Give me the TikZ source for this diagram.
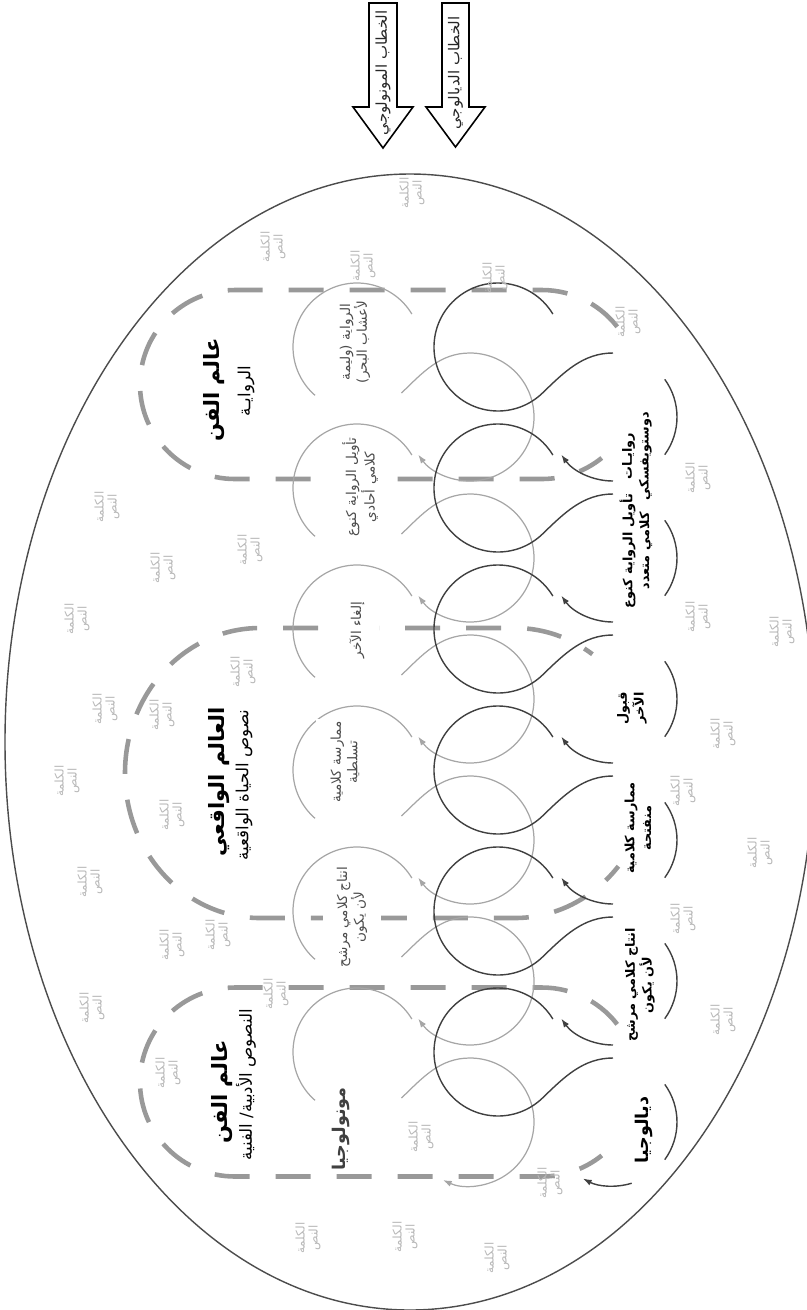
\documentclass[tikz,border=0pt]{standalone}
\usepackage{fontspec}
\usetikzlibrary{arrows.meta, calc}
\newfontfamily\arabicfont[Script=Arabic]{DejaVu Sans}
\TeXXeTstate=1
\newcommand{\artext}[1]{\beginR #1\endR}
\newcommand{\kw}{\artext{الكلمة}\\\artext{النص}}

\begin{document}
\begin{tikzpicture}[x=0.2mm, y=0.2mm,
    rim/.style={draw=black!70, line width=0.8pt},
    world/.style={draw=black!40, line width=2.6pt, dash pattern=on 7mm off 5.2mm},
    gline/.style={draw=black!35, line width=0.7pt},
    dline/.style={draw=black!75, line width=0.8pt},
    loopend/.style={-{Latex[length=5pt, width=3.5pt]}},
    bigarrow/.style={draw=black, line width=0.9pt, fill=white},
    ghost/.style={rotate=90, align=center, inner sep=0pt, text=black!28,
                  font=\arabicfont\fontsize{6.8}{7.4}\selectfont},
    glabel/.style={rotate=90, align=center, fill=white, inner xsep=1pt, inner ysep=8pt,
                   text=black!70, font=\arabicfont\fontsize{7.7}{9.5}\selectfont},
    dlabel/.style={rotate=90, align=center, inner sep=0pt, text=black,
                   font=\arabicfont\bfseries\fontsize{7.3}{9.5}\selectfont},
    worldname/.style={rotate=90, inner sep=0pt,
                      font=\arabicfont\bfseries\fontsize{12}{14}\selectfont},
    subtitle/.style={rotate=90, inner sep=0pt,
                     font=\arabicfont\fontsize{9.5}{11}\selectfont},
    endlabel/.style={rotate=90, inner sep=0pt,
                     font=\arabicfont\bfseries\fontsize{10}{12}\selectfont},
    arrowtext/.style={rotate=90, inner sep=0pt, text=black!85,
                      font=\arabicfont\fontsize{8.5}{10}\selectfont}
]
\useasboundingbox (0,0) rectangle (807,-1310);

% --- Outer ellipse ---
\draw[rim] (410,-742) ellipse[x radius=405, y radius=568];

% --- Discourse arrows (top) ---
\draw[bigarrow] (369,-3) -- (397,-3) -- (397,-107) -- (413,-107) -- (383,-148)
    -- (353,-107) -- (369,-107) -- cycle;
\draw[bigarrow] (442,-3) -- (469,-3) -- (469,-107) -- (485,-107) -- (455.5,-147)
    -- (426,-107) -- (442,-107) -- cycle;
\node[arrowtext] (mono) at (383,-73) {\artext{الخطاب المونولوجي}};
\node[arrowtext] (dia)  at (455.5,-73) {\artext{الخطاب الديالوجي}};

% --- Worlds (dashed) ---
% top: art / novel
\draw[world, dash phase=11mm] ($(542,-384.5)+(34:95 and 94.5)$)
    arc[start angle=34, end angle=90, x radius=95, y radius=94.5]
    -- (235,-290) arc[start angle=90, end angle=270, x radius=95, y radius=94.5]
    -- (542,-479) arc[start angle=270, end angle=309, x radius=95, y radius=94.5];
% middle: real world
\draw[world, dash phase=5mm] ($(515,-773)+(55:135 and 145)$)
    arc[start angle=55, end angle=90, x radius=135, y radius=145]
    -- (260,-628) arc[start angle=90, end angle=270, x radius=135, y radius=145]
    -- (515,-918) arc[start angle=270, end angle=320, x radius=135, y radius=145];
% bottom: art / literary texts
\draw[world, dash phase=11mm] ($(542,-1082)+(34:95 and 94.5)$)
    arc[start angle=34, end angle=90, x radius=95, y radius=94.5]
    -- (235,-987.5) arc[start angle=90, end angle=270, x radius=95, y radius=94.5]
    -- (542,-1176.5) arc[start angle=270, end angle=309, x radius=95, y radius=94.5];

\node[worldname] (artA)  at (214,-390) {\artext{عالم الفن}};
\node[subtitle]  (artAs) at (246,-391) {\artext{الروايـة}};
\node[worldname] (real)  at (219,-782) {\artext{العالم الواقعي}};
\node[subtitle]  (reals) at (244,-785) {\artext{نصوص الحياة الواقعية}};
\node[worldname] (artB)  at (222,-1092) {\artext{عالم الفن}};
\node[subtitle]  (artBs) at (246,-1085) {\artext{النصوص الأدبية/ الفنية}};

% --- Monologic loop (grey) ---
\foreach \k in {0,...,5} {
  \pgfmathsetmacro\yl{-347-141*\k}
  \pgfmathsetmacro\yr{\yl-70}
  \pgfmathsetmacro\stop{\k<5 ? -144 : -115}
  \coordinate (gL\k) at (357,\yl);
  \coordinate (gR\k) at (470,\yr);
  \draw[gline] ($(gL\k)+(31:64)$) arc[start angle=31, end angle=229, radius=64];
  \draw[gline, loopend] ($(gL\k)+(-46:64)$) .. controls +(44:30) and +(180:30) .. ($(gR\k)+(90:64)$)
      arc[start angle=90, end angle=\stop, radius=64];
}

% --- Dialogic loop (dark) ---
\foreach \k in {0,...,5} {
  \pgfmathsetmacro\yl{-347-141*\k}
  \pgfmathsetmacro\yr{\yl-70}
  \pgfmathsetmacro\from{\k<5 ? -90 : -73}
  \pgfmathsetmacro\stop{\k<5 ? -144 : -118}
  \coordinate (dL\k) at (498,\yl);
  \coordinate (dR\k) at (613,\yr);
  \draw[dline] ($(dL\k)+(31:64)$) arc[start angle=31, end angle=314, radius=64]
      .. controls +(44:30) and +(180:30) .. ($(dR\k)+(90:64)$);
  \draw[dline] ($(dR\k)+(36:64)$) arc[start angle=36, end angle=-36, radius=64];
  \draw[dline, loopend] ($(dR\k)+(\from:64)$) arc[start angle=\from, end angle=\stop, radius=64];
}

% --- Loop labels ---
\node[glabel] (g0) at (355,-342) {\artext{الرواية (وليمة}\\\artext{لأعشاب البحر)}};
\node[glabel] (g1) at (360,-487) {\artext{تأويل الرواية كنوع}\\\artext{كلامي أحادي}};
\node[glabel] (g2) at (357,-630) {\artext{إلغاء الآخر}};
\node[glabel] (g3) at (345,-762) {\artext{ممارسة كلامية}\\\artext{تسلطية}};
\node[glabel] (g4) at (352,-917) {\artext{انتاج كلامي مرشح}\\\artext{لأن يكون}};
\node[endlabel, text=black!75] (g5) at (341,-1129) {\artext{مونولوجيا}};

\node[dlabel] (d0) at (637,-456) {\artext{روايـات}\\\artext{دوستويفسكي}};
\node[dlabel] (d1) at (636,-551) {\artext{تأويل الرواية كنوع}\\\artext{كلامي متعدد}};
\node[dlabel] (d2) at (632,-708) {\artext{قبول}\\\artext{الآخر}};
\node[dlabel] (d3) at (638,-828) {\artext{ممارسة كلامية}\\\artext{منفتحة}};
\node[dlabel] (d4) at (640,-985) {\artext{انتاج كلامي مرشح}\\\artext{لأن يكون}};
\node[endlabel] (d5) at (644,-1130) {\artext{ديالوجيا}};

% --- Scattered words ---
\node[ghost] (w1)  at (412,-193) {\kw};
\node[ghost] (w2)  at (273,-247) {\kw};
\node[ghost] (w3)  at (363,-266) {\kw};
\node[ghost] (w4)  at (495,-278) {\kw};
\node[ghost] (w5)  at (628,-322) {\kw};
\node[ghost] (w6)  at (107,-507) {\kw};
\node[ghost] (w7)  at (250,-550) {\kw};
\node[ghost] (w8)  at (163,-568) {\kw};
\node[ghost] (w9)  at (77,-619) {\kw};
\node[ghost] (w10) at (243,-672) {\kw};
\node[ghost] (w11) at (105,-709) {\kw};
\node[ghost] (w12) at (162,-715) {\kw};
\node[ghost] (w13) at (67,-781) {\kw};
\node[ghost] (w14) at (172,-815) {\kw};
\node[ghost] (w15) at (90,-882) {\kw};
\node[ghost] (w16) at (172,-945) {\kw};
\node[ghost] (w17) at (218,-935) {\kw};
\node[ghost] (w18) at (92,-1008) {\kw};
\node[ghost] (w19) at (276,-994) {\kw};
\node[ghost] (w20) at (168,-1073) {\kw};
\node[ghost] (w21) at (308,-1238) {\kw};
\node[ghost] (w22) at (421,-1137) {\kw};
\node[ghost] (w23) at (405,-1237) {\kw};
\node[ghost] (w24) at (497,-1258) {\kw};
\node[ghost] (w25) at (550,-1183) {\kw};
\node[ghost] (w26) at (698,-478) {\kw};
\node[ghost] (w27) at (698,-617) {\kw};
\node[ghost] (w28) at (782,-632) {\kw};
\node[ghost] (w29) at (723,-734) {\kw};
\node[ghost] (w30) at (683,-791) {\kw};
\node[ghost] (w31) at (760,-853) {\kw};
\node[ghost] (w32) at (683,-919) {\kw};
\node[ghost] (w33) at (723,-1020) {\kw};

\end{tikzpicture}
\end{document}
